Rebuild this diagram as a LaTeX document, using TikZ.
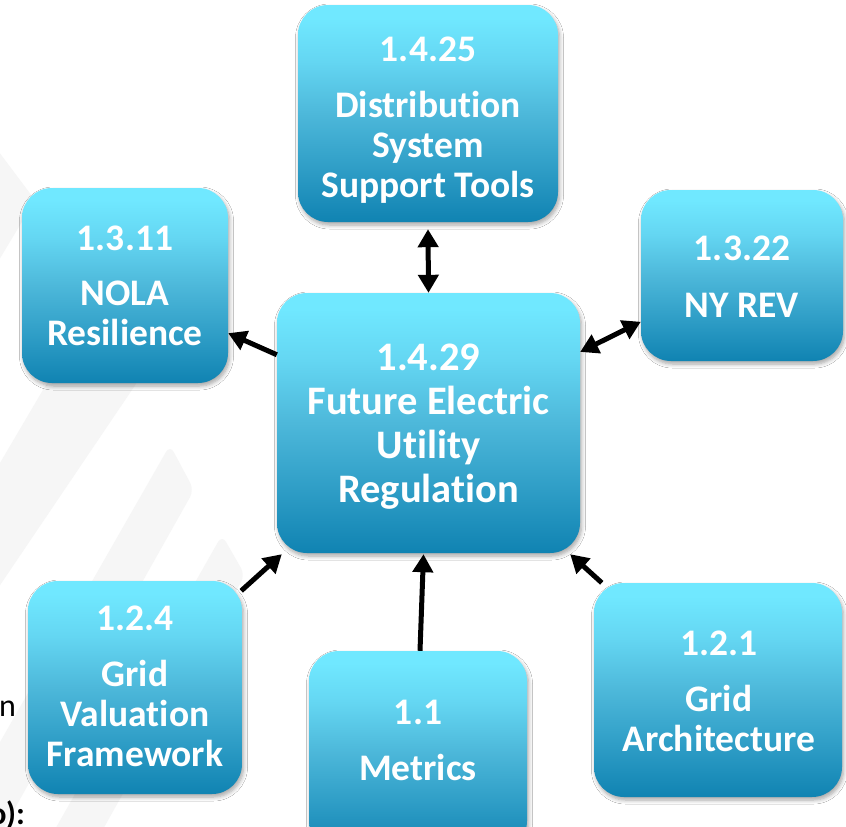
\documentclass[tikz,border=0pt]{standalone}
\usepackage{fontspec}
\setmainfont{Carlito}[Ligatures={NoCommon,NoRare,NoContextual}]
\usetikzlibrary{arrows.meta,calc,shadows.blur}
\definecolor{boxtop}{HTML}{70E8FF}
\definecolor{boxhigh}{HTML}{64D6F2}
\definecolor{boxmid}{HTML}{4DB8DA}
\definecolor{boxlow}{HTML}{2E9DC6}
\definecolor{boxbot}{HTML}{1083B2}
\definecolor{stripegray}{HTML}{F6F6F6}
\pgfdeclareverticalshading{boxshade}{100bp}{color(0bp)=(boxbot); color(25bp)=(boxbot); color(37bp)=(boxlow); color(50bp)=(boxmid); color(62bp)=(boxhigh); color(72bp)=(boxtop); color(100bp)=(boxtop)}
\tikzset{
  box/.style={rounded corners=30pt, shading=boxshade, draw=none, inner sep=0pt,
    blur shadow={shadow xshift=1.5pt, shadow yshift=-3pt, shadow blur steps=6, shadow blur radius=4pt, shadow opacity=35}},
  txt/.style={text=white, font=\bfseries\fontsize{37.5}{40}\selectfont, align=center, inner sep=0pt},
  bigtxt/.style={txt, font=\bfseries\fontsize{40.5}{44}\selectfont},
  conn/.style={line width=5pt, -{Triangle[length=18pt,width=20pt]}},
  biconn/.style={line width=5pt, {Triangle[length=18pt,width=20pt]}-{Triangle[length=18pt,width=20pt]}},
  stripe/.style={fill=stripegray, draw=none, rounded corners=8pt},
  edgetxt/.style={text=black, font=\fontsize{32}{38}\selectfont, inner sep=0pt}
}
\begin{document}
\begin{tikzpicture}[x=1pt,y=-1pt]
\useasboundingbox (0,0) rectangle (846,827);
\clip (0,0) rectangle (846,827);
\fill[white] (0,0) rectangle (846,827);
% faint background stripes
\fill[stripe] (-10,140) -- (35,200) -- (-10,275) -- cycle;
\fill[stripe] (-10,480) -- (50,378) -- (140,378) -- (-10,600) -- cycle;
\fill[stripe] (170,445) -- (194,490) -- (-3,840) -- (-56,840) -- cycle;
\fill[stripe] (222,535) -- (245,575) -- (97,840) -- (49,840) -- cycle;
% partial slide texts at the left edge
\node[edgetxt, anchor=base west] (leftn) at (-1,716) {n};
\node[edgetxt, font=\bfseries\fontsize{32}{38}\selectfont, anchor=base east] (leftcolon) at (25,824) {o):};
% boxes
\node[box, minimum width=260pt, minimum height=217pt] (dist) at (428,113.5) {};
\node[box, minimum width=206pt, minimum height=195pt] (nola) at (125,285.5) {};
\node[box, minimum width=202pt, minimum height=171pt] (nyrev) at (742,275.5) {};
\node[box, minimum width=303pt, minimum height=260pt] (feur) at (428.5,423) {};
\node[box, minimum width=214pt, minimum height=213pt] (gval) at (135,687.5) {};
\node[box, minimum width=218pt, minimum height=200pt] (metr) at (418,751) {};
\node[box, minimum width=248pt, minimum height=214pt] (garch) at (718,690) {};
% texts
\node[txt] (distT) at (428,120) {1.4.25\\[16pt]Distribution\\System\\Support Tools};
\node[txt] (nolaT) at (125,286) {1.3.11\\[15pt]NOLA\\Resilience};
\node[txt] (nyrevT) at (742,277) {1.3.22\\[17pt]NY REV};
\node[bigtxt] (feurT) at (428.5,427) {1.4.29\\Future Electric\\Utility\\Regulation};
\node[txt] (gvalT) at (135,686) {1.2.4\\[16pt]Grid\\Valuation\\Framework};
\node[txt] (metrT) at (418,740) {1.1\\[16pt]Metrics};
\node[txt] (garchT) at (719,691) {1.2.1\\[16pt]Grid\\Architecture};
% connectors
\draw[biconn] ($(dist.south)+(0,7)$) -- (feur.north);
\draw[biconn] ($(feur.north east)!0.227!(feur.south east)$) -- ($(nyrev.north west)!0.77!(nyrev.south west)$);
\draw[conn] ($(feur.north west)!0.238!(feur.south west)$) -- ($(nola.north east)!0.744!(nola.south east)$);
\draw[conn] ($(gval.north east)+(-1,10)$) -- ($(feur.south west)+(5,1)$);
\draw[conn] ($(metr.north)+(2,0)$) -- ($(feur.south)+(-5,1)$);
\draw[conn] ($(garch.north west)+(8,0)$) -- ($(feur.south east)+(-10,1)$);
\end{tikzpicture}
\end{document}
